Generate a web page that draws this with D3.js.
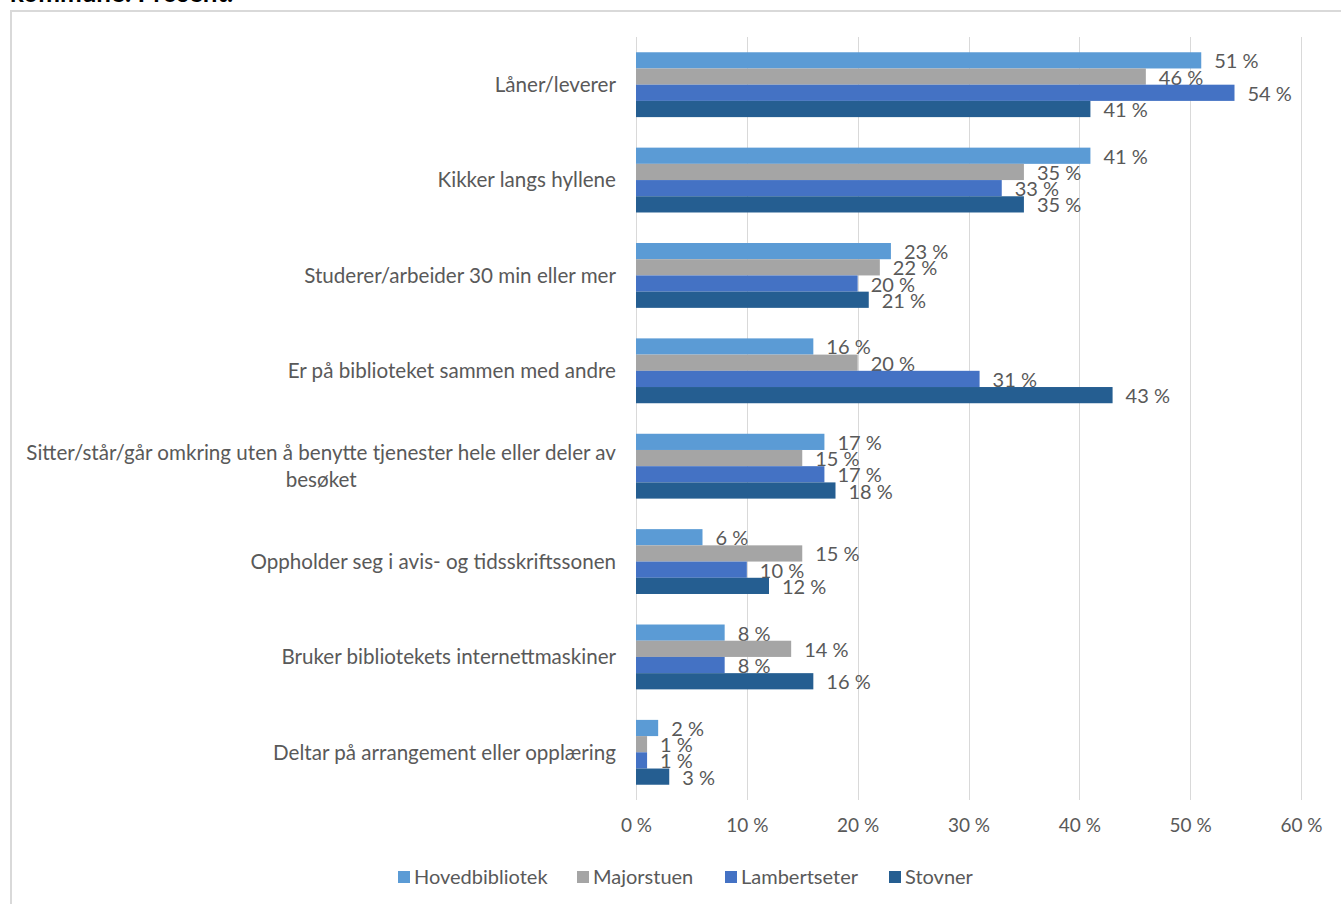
<!DOCTYPE html>
<html>
<head>
<meta charset="utf-8">
<script src="https://cdn.jsdelivr.net/npm/d3@7"></script>
<style>
  body { margin: 0; background: #fff; }
  text { font-family: Lato, "Open Sans", sans-serif; }
</style>
</head>
<body>
<div id="chart"></div>
<script>
var categories = [
  "Låner/leverer",
  "Kikker langs hyllene",
  "Studerer/arbeider 30 min eller mer",
  "Er på biblioteket sammen med andre",
  "Sitter/står/går omkring uten å benytte tjenester hele eller deler av besøket",
  "Oppholder seg i avis- og tidsskriftssonen",
  "Bruker bibliotekets internettmaskiner",
  "Deltar på arrangement eller opplæring"
];
var seriesNames = ["Hovedbibliotek", "Majorstuen", "Lambertseter", "Stovner"];
var hovedbibliotek = [51, 41, 23, 16, 17, 6, 8, 2];
var majorstuen = [46, 35, 22, 20, 15, 15, 14, 1];
var lambertseter = [54, 33, 20, 31, 17, 10, 8, 1];
var stovner = [41, 35, 21, 43, 18, 12, 16, 3];
var tickValues = [0, 10, 20, 30, 40, 50, 60];

var seriesValues = [hovedbibliotek, majorstuen, lambertseter, stovner];
var colors = ["#5B9BD5", "#A5A5A5", "#4472C4", "#255E91"];

var W = 1341, H = 904;
var plotLeft = 636, plotRight = 1301, plotTop = 37, plotBottom = 800;
var textColor = "#595959";
var fs = 20;

var svg = d3.select("#chart").append("svg").attr("width", W).attr("height", H);

// heading of the page, mostly cut off above the frame
svg.append("text").attr("x", 10).attr("y", 2).attr("font-size", 26).attr("font-weight", "bold")
  .attr("fill", "#000").text("kommune. Prosent.");

// chart frame (runs off the right and bottom edges)
svg.append("rect").attr("x", 11).attr("y", 11).attr("width", W + 20).attr("height", H + 20)
  .attr("fill", "none").attr("stroke", "#D9D9D9").attr("stroke-width", 2);

var x = d3.scaleLinear().domain([0, 60]).range([plotLeft, plotRight]);
var y0 = d3.scaleBand().domain(categories).range([plotTop, plotBottom]).paddingInner(0.32).paddingOuter(0.16);
var y1 = d3.scaleBand().domain(seriesNames).range([0, y0.bandwidth()]);

// gridlines
svg.append("g").selectAll("line").data(tickValues).enter().append("line")
  .attr("x1", function(d) { return Math.round(x(d)) + .5; })
  .attr("x2", function(d) { return Math.round(x(d)) + .5; })
  .attr("y1", plotTop).attr("y2", plotBottom)
  .attr("stroke", "#D9D9D9").attr("stroke-width", 1);

// x axis labels
var xAxis = d3.axisBottom(x).tickValues(tickValues).tickSize(0).tickPadding(0)
  .tickFormat(function(d) { return d + " %"; });
var gx = svg.append("g").attr("transform", "translate(0," + (plotBottom + 18) + ")").call(xAxis);
gx.select(".domain").remove();
gx.selectAll("text").attr("font-family", "Lato, sans-serif").attr("font-size", 19).attr("fill", textColor);

// category labels (wrapped when too long)
var catFs = 20.6;
var catG = svg.append("g");
categories.forEach(function(c) {
  var t = catG.append("text").attr("font-size", catFs).attr("fill", textColor).attr("text-anchor", "middle");
  var words = c.split(" "), lines = [], line = [];
  var probe = catG.append("text").attr("font-size", catFs);
  words.forEach(function(w) {
    line.push(w);
    probe.text(line.join(" "));
    if (probe.node().getComputedTextLength() > 600 && line.length > 1) {
      line.pop();
      lines.push(line.join(" "));
      line = [w];
    }
  });
  lines.push(line.join(" "));
  var maxW = 0;
  lines.forEach(function(l) { probe.text(l); maxW = Math.max(maxW, probe.node().getComputedTextLength()); });
  probe.remove();
  var lh = 27;
  var cy = y0(c) + y0.bandwidth() / 2 - (lines.length - 1) * lh / 2;
  lines.forEach(function(l, i) {
    t.append("tspan").attr("x", 616 - maxW / 2).attr("y", cy + i * lh).attr("dy", "0.35em").text(l);
  });
});

// bars and value labels, series by series
seriesNames.forEach(function(name, si) {
  var g = svg.append("g");
  var vals = seriesValues[si];
  g.selectAll("rect").data(vals).enter().append("rect")
    .attr("x", x(0))
    .attr("y", function(d, i) { return y0(categories[i]) + y1(name); })
    .attr("width", function(d) { return x(d) - x(0); })
    .attr("height", y1.bandwidth())
    .attr("fill", colors[si]);
  g.selectAll("text").data(vals).enter().append("text")
    .attr("x", function(d) { return x(d) + 13; })
    .attr("y", function(d, i) { return y0(categories[i]) + y1(name) + y1.bandwidth() / 2 + 1; })
    .attr("dy", "0.35em")
    .attr("font-size", fs).attr("fill", textColor)
    .text(function(d) { return d + " %"; });
});

// legend
var legendX = [398, 577, 725, 889];
var leg = svg.append("g");
seriesNames.forEach(function(name, i) {
  leg.append("rect").attr("x", legendX[i]).attr("y", 871).attr("width", 12).attr("height", 12).attr("fill", colors[i]);
  leg.append("text").attr("x", legendX[i] + 16).attr("y", 877).attr("dy", "0.35em")
    .attr("font-size", fs).attr("fill", textColor).text(name);
});
</script>
</body>
</html>
